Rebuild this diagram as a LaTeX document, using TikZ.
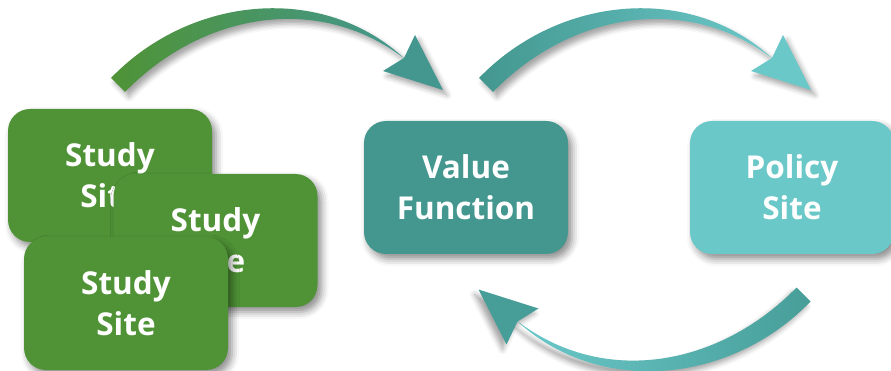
\documentclass[tikz,border=0pt]{standalone}
\usepackage{fontspec}
\setmainfont{Open Sans}
\usetikzlibrary{shadows.blur}
\definecolor{sgreen}{HTML}{4F9336}
\definecolor{steal}{HTML}{43978F}
\definecolor{slight}{HTML}{6BC8C9}
\definecolor{sheadb}{HTML}{479E99}
\tikzset{
  sitebox/.style={rounded corners=22pt, minimum width=204pt, minimum height=133pt,
    text=white, align=center, inner sep=0pt,
    font=\bfseries\fontsize{31.5}{41}\selectfont,
    blur shadow={shadow xshift=4pt, shadow yshift=-5pt, shadow blur radius=7pt, shadow opacity=45}},
  shaftshadow/.style={blur shadow={shadow xshift=#1, shadow yshift=-5pt, shadow blur radius=5pt, shadow opacity=35}},
}
\newcommand{\curvedarrow}[5]{%
  % #1 scope options, #2 tail colour, #3 head colour (shaft end), #4 head fill, #5 shadow xshift
  \begin{scope}[#1]
    \path[shaftshadow=#5, left color=#2, right color=#3]
      (111,78) .. controls (190,-4) and (322,-18) .. (405,59)
      .. controls (318,-8) and (202,13) .. (125,92) -- cycle;
    \path[shaftshadow=#5, fill=#4]
      (443,90) -- (383,71) -- (404,58) -- (415,35) -- cycle;
  \end{scope}}
\begin{document}
\begin{tikzpicture}[x=1pt, y=-1pt]
  \useasboundingbox (0,0) rectangle (891,371);
  % boxes
  \node[sitebox, fill=sgreen] (s1) at (110,175.5) {Study\\Site};
  \node[sitebox, fill=sgreen] (s2) at (215.5,240.5) {Study\\Site};
  \node[sitebox, fill=sgreen] (s3) at (126,303.5) {Study\\Site};
  \node[sitebox, fill=steal] (vf) at (466,187.5) {Value\\Function};
  \node[sitebox, fill=slight] (ps) at (792,187.5) {Policy\\Site};
  % arrows
  \curvedarrow{}{sgreen}{steal}{steal}{4pt}
  \curvedarrow{shift={(368,0)}}{steal}{slight}{slight}{4pt}
  \curvedarrow{rotate around={180:(460.75,189.75)}}{slight}{sheadb}{sheadb}{-4pt}
\end{tikzpicture}
\end{document}
